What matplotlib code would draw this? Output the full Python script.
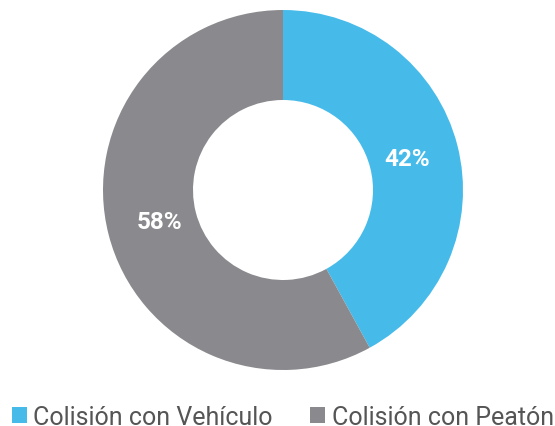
import matplotlib
matplotlib.use("Agg")
import matplotlib.pyplot as plt
from matplotlib.patches import Patch

categories = ["Colisión con Vehículo", "Colisión con Peatón"]
values = [42, 58]
colors = ["#46BBEA", "#8A898E"]

plt.rcParams['font.family'] = ['Roboto', 'DejaVu Sans']

fig = plt.figure(figsize=(5.55, 4.27), dpi=100)
ax = fig.add_axes([103/555, 56/427, 360/555, 360/427])
wedges, texts, autotexts = ax.pie(values, colors=colors, startangle=90, counterclock=False,
                                  radius=1, wedgeprops=dict(width=0.5, linewidth=0),
                                  autopct=lambda p: f"{p:.0f}%", pctdistance=0.71)
for t in autotexts:
    t.set_color("white")
    t.set_fontsize(17.5)
    t.set_fontweight("bold")
ax.set_xlim(-1, 1)
ax.set_ylim(-1, 1)
ax.set_aspect("equal")

handles = [Patch(facecolor=c, edgecolor='none') for c in colors]
leg = fig.legend(handles, categories, loc="center left", bbox_to_anchor=(12/555, 9/427),
                 ncol=2, frameon=False, fontsize=18, handlelength=0.6, handleheight=0.6,
                 handletextpad=0.25, columnspacing=1.5, borderaxespad=0, borderpad=0,
                 labelcolor="#555555")
fig.savefig("out.png", dpi=100)
